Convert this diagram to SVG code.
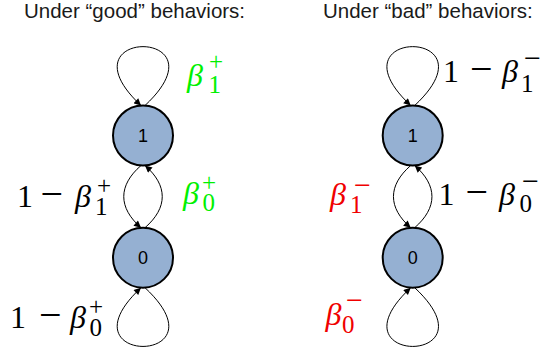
<svg xmlns="http://www.w3.org/2000/svg" width="545" height="352" viewBox="0 0 545 352">
<style>
.title{font-family:"Liberation Sans",Arial,sans-serif;font-size:20.5px;fill:#1a1a1a}
.node circle{fill:#95B0D2;stroke:#000;stroke-width:2}
.nl{font-family:"Liberation Sans",Arial,sans-serif;fill:#000;text-anchor:middle}
.edge{fill:none;stroke:#000;stroke-width:1;marker-end:url(#ah)}
.m{font-family:"Liberation Serif","Times New Roman",serif;font-size:32px}
.b{font-style:italic}
.s{font-size:25px}
.mi{font-size:40px}
.smi{font-size:30px}
.g{fill:#00F000}
.r{fill:#F00000}
.k{fill:#000}
</style>
<defs>
<marker id="ah" viewBox="0 0 10 10" refX="10" refY="5" markerWidth="8" markerHeight="7" orient="auto" markerUnits="userSpaceOnUse">
<path d="M0,0 L10,5 L0,10 z" fill="#000"/>
</marker>
</defs>
<text class="title" x="24" y="18">Under “good” behaviors:</text>
<text class="title" x="323" y="18">Under “bad” behaviors:</text>
<g id="connectors">
<path class="edge" d="M145,105.5 C229,27 57,27 141,105.5"/>
<path class="edge" d="M145,287.7 C229,366 57,366 141,287.7"/>
<path class="edge" d="M141,165.5 C118,185.5 118,207.7 141,227.7"/>
<path class="edge" d="M145,227.7 C168,207.7 168,185.5 145,165.5"/>
<path class="edge" d="M414.7,105.5 C498.7,27 326.7,27 410.7,105.5"/>
<path class="edge" d="M414.7,287.7 C498.7,366 326.7,366 410.7,287.7"/>
<path class="edge" d="M410.7,165.5 C387.7,185.5 387.7,207.7 410.7,227.7"/>
<path class="edge" d="M414.7,227.7 C437.7,207.7 437.7,185.5 414.7,165.5"/>
</g>
<g id="good-1" class="node"><circle cx="143" cy="135.5" r="30"/><text class="nl" x="143" y="142" font-size="18">1</text></g>
<g id="good-0" class="node"><circle cx="143" cy="257.7" r="30"/><text class="nl" x="143" y="264" font-size="18">0</text></g>
<g id="bad-1" class="node"><circle cx="412.7" cy="135.5" r="30"/><text class="nl" x="412.7" y="142" font-size="18">1</text></g>
<g id="bad-0" class="node"><circle cx="412.7" cy="257.7" r="30"/><text class="nl" x="412.7" y="264" font-size="18">0</text></g>
<g id="labels" class="m">
<g class="g"><text class="b" x="187" y="86">β</text><text class="s" x="209" y="70">+</text><text class="s" x="208.5" y="93">1</text></g>
<g class="k"><text x="17" y="207">1</text><text class="mi" x="40.5" y="207">−</text><text class="b" x="75" y="207">β</text><text class="s" x="97" y="194">+</text><text class="s" x="95" y="215">1</text></g>
<g class="g"><text class="b" x="183" y="204">β</text><text class="s" x="202" y="191">+</text><text class="s" x="202.4" y="211">0</text></g>
<g class="k"><text x="10" y="328">1</text><text class="mi" x="39" y="328">−</text><text class="b" x="70" y="328">β</text><text class="s" x="89" y="314.5">+</text><text class="s" x="89.4" y="335.5">0</text></g>
<g class="k"><text x="443" y="82">1</text><text class="mi" x="470" y="82">−</text><text class="b" x="502" y="82">β</text><text class="smi" x="524" y="67.6">−</text><text class="s" x="521" y="92">1</text></g>
<g class="r"><text class="b" x="330" y="205">β</text><text class="smi" x="354" y="194.6">−</text><text class="s" x="350" y="212.7">1</text></g>
<g class="k"><text x="438.5" y="205">1</text><text class="mi" x="465.5" y="205">−</text><text class="b" x="499" y="205">β</text><text class="smi" x="522" y="190.6">−</text><text class="s" x="519.4" y="212">0</text></g>
<g class="r"><text class="b" x="325.5" y="325">β</text><text class="smi" x="346" y="309.6">−</text><text class="s" x="342" y="333">0</text></g>
</g>
</svg>
